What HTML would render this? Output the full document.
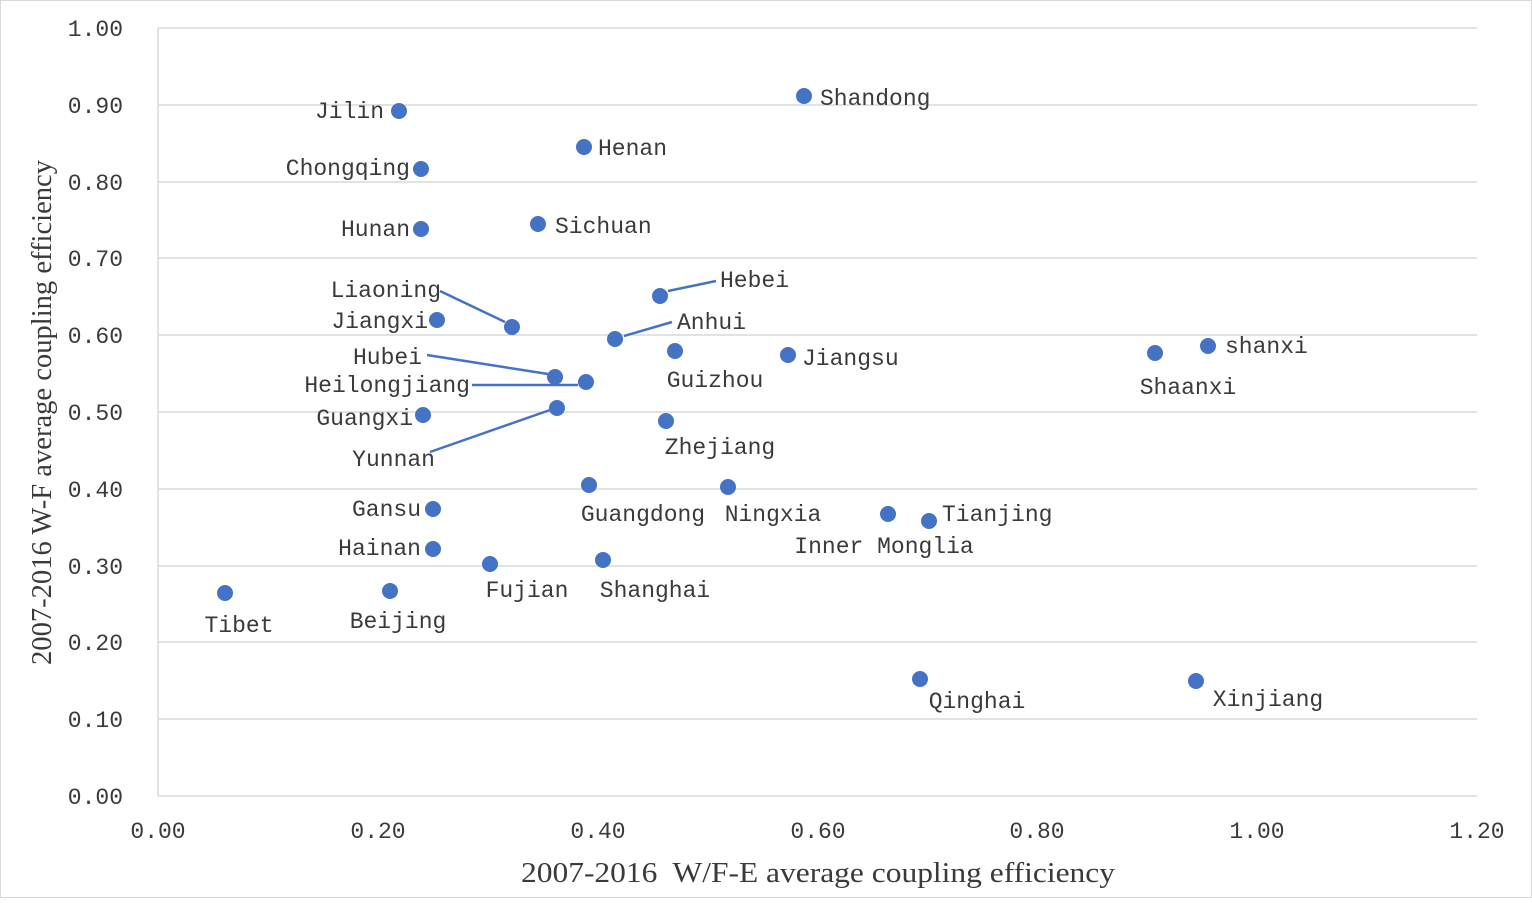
<!DOCTYPE html>
<html><head><meta charset="utf-8"><style>
html,body{margin:0;padding:0;background:#fff}
svg text{font-family:"Liberation Mono","Noto Serif CJK SC",monospace;font-size:23px;fill:#3a3a3a}
</style></head><body>
<svg width="1532" height="898" viewBox="0 0 1532 898" xmlns="http://www.w3.org/2000/svg">
<rect x="0.5" y="0.5" width="1531" height="897" fill="#fff" stroke="#d9d9d9"/>
<g stroke="#d9d9d9" stroke-width="1.5">
<line x1="158" y1="28" x2="1477" y2="28"/><line x1="158" y1="105" x2="1477" y2="105"/>
<line x1="158" y1="182" x2="1477" y2="182"/><line x1="158" y1="258" x2="1477" y2="258"/>
<line x1="158" y1="335" x2="1477" y2="335"/><line x1="158" y1="412" x2="1477" y2="412"/>
<line x1="158" y1="489" x2="1477" y2="489"/><line x1="158" y1="566" x2="1477" y2="566"/>
<line x1="158" y1="642" x2="1477" y2="642"/><line x1="158" y1="719" x2="1477" y2="719"/>
<line x1="158" y1="796" x2="1477" y2="796"/>
<line x1="158" y1="28" x2="158" y2="796"/>
</g>
<g text-anchor="end">
<text x="123" y="36">1.00</text><text x="123" y="113">0.90</text><text x="123" y="190">0.80</text>
<text x="123" y="266">0.70</text><text x="123" y="343">0.60</text><text x="123" y="420">0.50</text>
<text x="123" y="497">0.40</text><text x="123" y="574">0.30</text><text x="123" y="650">0.20</text>
<text x="123" y="727">0.10</text><text x="123" y="804">0.00</text>
</g>
<g text-anchor="middle">
<text x="158" y="838">0.00</text><text x="378" y="838">0.20</text><text x="598" y="838">0.40</text>
<text x="818" y="838">0.60</text><text x="1037" y="838">0.80</text><text x="1257" y="838">1.00</text>
<text x="1477" y="838">1.20</text>
</g>
<text x="521" y="882" textLength="594" lengthAdjust="spacingAndGlyphs" style="font-family:'Liberation Serif',serif;font-size:29px;fill:#3a3a3a" xml:space="preserve">2007-2016  W/F-E average coupling efficiency</text>
<text transform="translate(51,665) rotate(-90)" textLength="505" lengthAdjust="spacingAndGlyphs" style="font-family:'Liberation Serif',serif;font-size:29px;fill:#3a3a3a">2007-2016 W-F average coupling efficiency</text>
<g stroke="#4472c4" stroke-width="2.5">
<line x1="668" y1="291" x2="716" y2="281"/>
<line x1="440" y1="291" x2="505" y2="322"/>
<line x1="624" y1="336" x2="672" y2="322"/>
<line x1="427" y1="355" x2="548" y2="374"/>
<line x1="472" y1="385" x2="578" y2="385"/>
<line x1="430" y1="452" x2="550" y2="410"/>
</g>
<g fill="#4472c4">
<circle cx="225" cy="593" r="8"/><circle cx="390" cy="591" r="8"/><circle cx="399" cy="111" r="8"/>
<circle cx="421" cy="169" r="8"/><circle cx="421" cy="229" r="8"/><circle cx="584" cy="147" r="8"/>
<circle cx="804" cy="96" r="8"/><circle cx="538" cy="224" r="8"/><circle cx="660" cy="296" r="8"/>
<circle cx="512" cy="327" r="8"/><circle cx="437" cy="320" r="8"/><circle cx="615" cy="339" r="8"/>
<circle cx="675" cy="351" r="8"/><circle cx="788" cy="355" r="8"/><circle cx="555" cy="377" r="8"/>
<circle cx="586" cy="382" r="8"/><circle cx="557" cy="408" r="8"/><circle cx="423" cy="415" r="8"/>
<circle cx="666" cy="421" r="8"/><circle cx="433" cy="509" r="8"/><circle cx="433" cy="549" r="8"/>
<circle cx="589" cy="485" r="8"/><circle cx="728" cy="487" r="8"/><circle cx="888" cy="514" r="8"/>
<circle cx="929" cy="521" r="8"/><circle cx="490" cy="564" r="8"/><circle cx="603" cy="560" r="8"/>
<circle cx="1155" cy="353" r="8"/><circle cx="1208" cy="346" r="8"/><circle cx="920" cy="679" r="8"/>
<circle cx="1196" cy="681" r="8"/>
</g>
<g text-anchor="middle">
<text x="239" y="632">Tibet</text><text x="398" y="628">Beijing</text><text x="715" y="387">Guizhou</text>
<text x="720" y="454">Zhejiang</text><text x="643" y="521">Guangdong</text><text x="773" y="521">Ningxia</text>
<text x="884" y="553">Inner Monglia</text><text x="527" y="597">Fujian</text><text x="655" y="597">Shanghai</text>
<text x="1188" y="394">Shaanxi</text><text x="977" y="708">Qinghai</text><text x="1268" y="706">Xinjiang</text>
</g>
<g text-anchor="end">
<text x="384" y="118">Jilin</text><text x="410" y="175">Chongqing</text><text x="410" y="236">Hunan</text>
<text x="441" y="297">Liaoning</text><text x="428" y="328">Jiangxi</text><text x="422" y="364">Hubei</text>
<text x="470" y="392">Heilongjiang</text><text x="435" y="466">Yunnan</text><text x="413" y="425">Guangxi</text>
<text x="421" y="516">Gansu</text><text x="421" y="555">Hainan</text>
</g>
<g>
<text x="598" y="155">Henan</text><text x="820" y="105">Shandong</text><text x="555" y="233">Sichuan</text>
<text x="720" y="287">Hebei</text><text x="677" y="329">Anhui</text><text x="802" y="365">Jiangsu</text>
<text x="942" y="521">Tianjing</text><text x="1225" y="353">shanxi</text>
</g>
</svg>
</body></html>
